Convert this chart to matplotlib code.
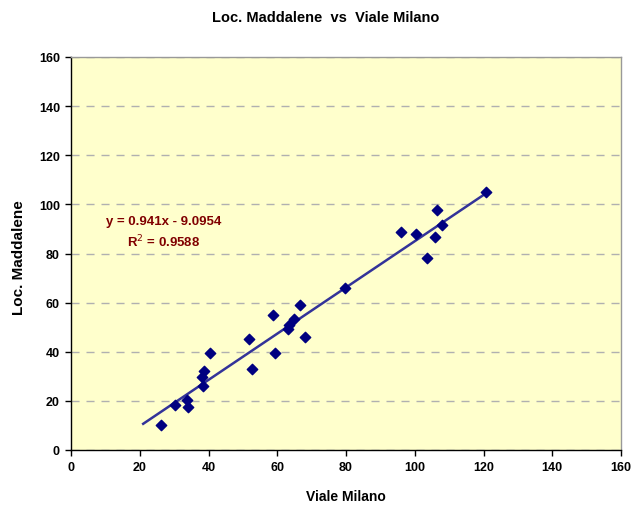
import matplotlib
matplotlib.use("Agg")
import matplotlib.pyplot as plt
import numpy as np

# Viale Milano (x) vs Loc. Maddalene (y)
viale_milano = [26.1, 30.2, 33.7, 34.0, 38.3, 38.0, 38.6, 40.4, 51.7, 52.6,
                58.7, 59.2, 63.0, 63.3, 65.0, 66.5, 68.2, 79.8, 96.1, 100.5,
                103.7, 106.0, 106.6, 108.0, 120.8]
loc_maddalene = [10.2, 18.3, 20.4, 17.5, 26.1, 29.7, 32.2, 39.5, 45.2, 33.0,
                 55.0, 39.5, 49.3, 50.9, 53.3, 59.0, 46.0, 66.0, 88.8, 87.9,
                 78.2, 86.7, 97.7, 91.6, 105.0]

slope = 0.941
intercept = -9.0954
r2 = 0.9588
trend_range = [21, 121]

ticks = [0, 20, 40, 60, 80, 100, 120, 140, 160]

plt.rcParams['font.family'] = ['Liberation Sans', 'DejaVu Sans']

fig = plt.figure(figsize=(6.31, 5.06), dpi=100)
ax = fig.add_axes([71 / 631, 55 / 506, 550 / 631, 393 / 506])
ax.set_facecolor('#FFFFCC')

tx = np.array(trend_range)
ax.plot(tx, slope * tx + intercept, color='#333399', lw=1.8, zorder=2)
ax.scatter(viale_milano, loc_maddalene, marker='D', s=28, color='#000080',
           edgecolors='#000080', zorder=3)

ax.set_xlim(0, 160)
ax.set_ylim(0, 160)
ax.set_xticks(ticks)
ax.set_yticks(ticks)
ax.yaxis.grid(True, color='#B0B0B0', ls=(0, (5.8, 5)), lw=1)
ax.set_axisbelow(True)

for s in ['left', 'bottom']:
    ax.spines[s].set_color('black')
    ax.spines[s].set_linewidth(1)
for s in ['top', 'right']:
    ax.spines[s].set_color('#999999')
    ax.spines[s].set_linewidth(1)

ax.tick_params(direction='out', length=4, width=1, labelsize=9, pad=4)
for lab in ax.get_xticklabels() + ax.get_yticklabels():
    lab.set_fontweight('bold')

fig.text(346 / 631, 1 - 497 / 506, 'Viale Milano', fontsize=10,
         fontweight='bold', ha='center', va='center')
fig.text(19 / 631, 1 - 258 / 506, 'Loc. Maddalene', fontsize=11,
         fontweight='bold', ha='center', va='center', rotation=90)
fig.text(326 / 631, 1 - 18 / 506, 'Loc. Maddalene  vs  Viale Milano',
         fontsize=10.5, fontweight='bold', ha='center', va='center')

ax.text(27, 93.3, 'y = 0.941x - 9.0954', color='#800000', fontsize=9.5,
        fontweight='bold', ha='center', va='center')
ax.text(27, 85.2, 'R$^2$ = 0.9588', color='#800000', fontsize=9.5,
        fontweight='bold', ha='center', va='center')

fig.savefig('out.png', dpi=100)
